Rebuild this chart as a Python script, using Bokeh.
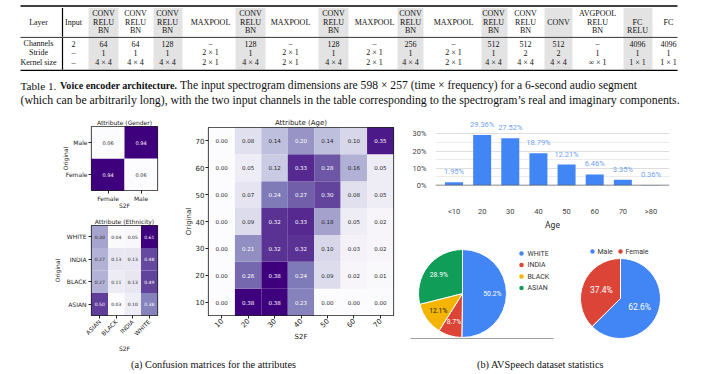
import math
from bokeh.plotting import figure
from bokeh.layouts import column, row
from bokeh.models import Range1d, FactorRange, FixedTicker, Span, ColumnDataSource
from bokeh.core.properties import value
from bokeh.embed import file_html
from bokeh.resources import INLINE

# ---------------- data ----------------
layer_headers = ["Input", "CONV RELU BN", "CONV RELU BN", "CONV RELU BN", "MAXPOOL",
                 "CONV RELU BN", "MAXPOOL", "CONV RELU BN", "MAXPOOL", "CONV RELU BN",
                 "MAXPOOL", "CONV RELU BN", "CONV RELU BN", "CONV", "AVGPOOL RELU BN",
                 "FC RELU", "FC"]
row_names = ["Channels", "Stride", "Kernel size"]
channels = ["2", "64", "64", "128", "–", "128", "–", "128", "–", "256", "–", "512", "512", "512", "–", "4096", "4096"]
strides = ["–", "1", "1", "1", "2 × 1", "1", "2 × 1", "1", "2 × 1", "1", "2 × 1", "1", "2", "2", "1", "1", "1"]
kernels = ["–", "4 × 4", "4 × 4", "4 × 4", "2 × 1", "4 × 4", "2 × 1", "4 × 4", "2 × 1", "4 × 4", "2 × 1",
           "4 × 4", "4 × 4", "4 × 4", "∞ × 1", "1 × 1", "1 × 1"]
shaded_cols = [1, 3, 5, 7, 9, 11, 13, 15]

gender_labels = ["Female", "Male"]
gender_matrix = [[0.94, 0.06],    # original Female -> S2F Female, Male
                 [0.06, 0.94]]    # original Male
ethnicity_labels = ["ASIAN", "BLACK", "INDIA", "WHITE"]
ethnicity_matrix = [[0.50, 0.03, 0.10, 0.38],   # original ASIAN
                    [0.27, 0.11, 0.13, 0.49],   # BLACK
                    [0.27, 0.13, 0.13, 0.48],   # INDIA
                    [0.30, 0.04, 0.05, 0.61]]   # WHITE
age_labels = ["10", "20", "30", "40", "50", "60", "70"]
age_matrix = [[0.00, 0.38, 0.38, 0.23, 0.00, 0.00, 0.00],   # original 10
              [0.00, 0.26, 0.38, 0.24, 0.09, 0.02, 0.01],   # 20
              [0.00, 0.21, 0.32, 0.32, 0.10, 0.03, 0.02],   # 30
              [0.00, 0.09, 0.32, 0.33, 0.18, 0.05, 0.02],   # 40
              [0.00, 0.07, 0.24, 0.27, 0.30, 0.08, 0.05],   # 50
              [0.00, 0.05, 0.12, 0.33, 0.28, 0.16, 0.05],   # 60
              [0.00, 0.08, 0.14, 0.20, 0.14, 0.10, 0.35]]   # 70
age_bins = ["<10", "20", "30", "40", "50", "60", "70", ">80"]
age_share = [1.95, 29.36, 27.52, 18.79, 12.21, 6.46, 3.35, 0.36]
eth_names = ["WHITE", "INDIA", "BLACK", "ASIAN"]
eth_share = [50.2, 8.7, 12.1, 28.9]
sex_names = ["Male", "Female"]
sex_share = [62.6, 37.4]

caption_lines = [["Table 1.", "Voice encoder architecture.",
                  "The input spectrogram dimensions are 598 × 257 (time × frequency) for a 6-second audio segment"],
                 ["(which can be arbitrarily long), with the two input channels in the table corresponding to the spectrogram’s real and imaginary components."]]
sub_captions = ["(a) Confusion matrices for the attributes", "(b) AVSpeech dataset statistics"]

# ---------------- styles / layout ----------------
SERIF = value("Liberation Serif")
SANS = value("DejaVu Sans")
ROBOTO = value("Roboto")
PURPLES = ["#fcfbfd", "#efedf5", "#dadaeb", "#bcbddc", "#9e9ac8", "#807dba", "#6a51a3", "#54278f", "#3f007d"]
GBLUE, GRED, GYELLOW, GGREEN = "#4285f4", "#db4437", "#f4b400", "#0f9d58"


def purple(t):
    t = min(max(t, 0.0), 1.0) * 8
    i = min(int(t), 7)
    f = t - i
    a = PURPLES[i]
    b = PURPLES[i + 1]
    ca = [int(a[k:k + 2], 16) for k in (1, 3, 5)]
    cb = [int(b[k:k + 2], 16) for k in (1, 3, 5)]
    return "#%02x%02x%02x" % tuple(int(round(ca[k] + (cb[k] - ca[k]) * f)) for k in range(3))


def blank(w, h, xr, yr):
    p = figure(width=w, height=h, x_range=Range1d(*xr), y_range=Range1d(*yr),
               x_axis_type=None, y_axis_type=None, toolbar_location=None,
               output_backend="svg", min_border=0, outline_line_color=None)
    p.grid.visible = False
    return p


# ---------------- table + caption ----------------
T = blank(718, 110, (0, 718), (110, 0))
col_x = [73, 103, 135, 167, 210, 250, 290, 333, 374, 410, 453, 493, 525, 558, 597, 637, 668]
shade_ext = {1: (88, 118), 3: (153, 182), 5: (235, 265), 7: (318, 348),
             9: (397, 423), 11: (481, 507), 13: (544, 572), 15: (623, 652)}
hdr_y = [13, 21.5, 30]
row_y = [43, 52.3, 61.8]
for c in shaded_cols:
    l, r = shade_ext[c]
    T.quad(left=[l, l], right=[r, r], top=[7.5, 37.6], bottom=[36.2, 69.1],
           fill_color="#e3e3e3", line_color=None)
T.segment(x0=[20, 20, 20], x1=[677, 677, 677], y0=[5.5, 36.9, 69.8], y1=[5.5, 36.9, 69.8],
          line_color="black", line_width=[1.3, 0.8, 1.3])
T.segment(x0=[62, 62], x1=[62, 62], y0=[7.5, 37.6], y1=[36.3, 69.2], line_color="black", line_width=1.2)

hx, hy, ht = [38], [hdr_y[1]], ["Layer"]
for c, h in enumerate(layer_headers):
    parts = h.split(" ")
    idx = [1] if len(parts) == 1 else ([1, 2] if len(parts) == 2 else [0, 1, 2])
    for k, s in zip(idx, parts):
        hx.append(col_x[c]); hy.append(hdr_y[k]); ht.append(s)
for k, name in enumerate(row_names):
    hx.append(38); hy.append(row_y[k]); ht.append(name)
for k, vals in enumerate([channels, strides, kernels]):
    for c, s in enumerate(vals):
        hx.append(col_x[c]); hy.append(row_y[k]); ht.append(s)
T.text(x=hx, y=hy, text=ht, text_font=SERIF, text_font_size=value("8px"), text_color="#111",
       text_align="center", text_baseline="middle")

# caption: three runs on line 1 (normal / bold / normal), one run on line 2
T.text(x=[20], y=[85], text=[caption_lines[0][0]], text_font=SERIF, text_font_size=value("11.2px"),
       text_color="#111", text_baseline="middle")
T.text(x=[59.5], y=[85], text=[caption_lines[0][1]], text_font=SERIF,
       text_font_size=value("10.1px"), text_font_style="bold", text_color="#111", text_baseline="middle")
T.text(x=[179.5], y=[85], text=[caption_lines[0][2]], text_font=SERIF,
       text_font_size=value("11.6px"), text_color="#111", text_baseline="middle")
T.text(x=[20], y=[99], text=[caption_lines[1][0]], text_font=SERIF, text_font_size=value("11.8px"),
       text_color="#111", text_baseline="middle")


# ---------------- heatmaps ----------------
def heatmap(labels, mat, title, w, h, bl, br, bt, bb, title_fs, tick_fs, cell_fs, lab_fs, rot,
            lab_standoff, ax_standoff_x, ax_standoff_y):
    vals = [v for r in mat for v in r]
    lo, hi = min(vals), max(vals)
    xs, ys, cs, ts, tcs = [], [], [], [], []
    for i, rlab in enumerate(labels):
        for j, clab in enumerate(labels):
            v = mat[i][j]
            t = (v - lo) / (hi - lo)
            xs.append(clab); ys.append(rlab); cs.append(purple(t))
            ts.append(f"{v:.2f}"); tcs.append("white" if t > 0.5 else "#262626")
    src = ColumnDataSource(dict(x=xs, y=ys, c=cs, t=ts, tc=tcs))
    p = figure(width=w, height=h, x_range=FactorRange(*labels), y_range=FactorRange(*labels),
               toolbar_location=None, output_backend="svg", min_border_left=bl, min_border_right=br,
               min_border_top=bt, min_border_bottom=bb, title=title,
               outline_line_color="#222", outline_line_width=1.2)
    p.rect(x="x", y="y", width=1, height=1, fill_color="c", line_color=None, source=src)
    p.text(x="x", y="y", text="t", text_color="tc", text_align="center", text_baseline="middle",
           text_font=SANS, text_font_size=value(cell_fs), source=src)
    p.grid.visible = False
    p.title.align = "center"
    p.title.text_font = "DejaVu Sans"
    p.title.text_font_size = title_fs
    p.title.text_font_style = "normal"
    p.title.text_color = "#222"
    p.title.standoff = 1
    for ax in (p.xaxis, p.yaxis):
        ax.axis_line_color = None
        ax.major_tick_out = 3
        ax.major_tick_in = 0
        ax.major_tick_line_color = "#222"
        ax.minor_tick_line_color = None
        ax.major_label_text_font = "DejaVu Sans"
        ax.major_label_text_font_size = tick_fs
        ax.major_label_text_color = "#222"
        ax.major_label_standoff = lab_standoff
        ax.axis_label_text_font = "DejaVu Sans"
        ax.axis_label_text_font_size = lab_fs
        ax.axis_label_text_font_style = "normal"
        ax.axis_label_text_color = "#222"
    p.xaxis.axis_label_standoff = ax_standoff_x
    p.yaxis.axis_label_standoff = ax_standoff_y
    p.xaxis.axis_label = "S2F"
    p.yaxis.axis_label = "Original"
    if rot:
        p.xaxis.major_label_orientation = math.pi / 4
    return p


G = heatmap(gender_labels, gender_matrix, "Attribute (Gender)", 170, 105, 91, 13, 16, 25,
            "6px", "6px", "5px", "6px", False, 1, -3, -6)
E = heatmap(ethnicity_labels, ethnicity_matrix, "Attribute (Ethnicity)", 170, 140, 56, 13, 10, 32,
            "6px", "6px", "4.5px", "6px", True, 2, 3, 3)
A = heatmap(age_labels, age_matrix, "Attribute (Age)", 230, 245, 38, 7, 17, 40,
            "7px", "7px", "5.5px", "7px", True, 1, 0, 0)

# ---------------- age distribution bar chart ----------------
n = len(age_bins)
B = figure(width=318, height=122, x_range=Range1d(-0.658, n - 1 + 0.658), y_range=Range1d(0, 38.96),
           toolbar_location=None, output_backend="svg", min_border_left=35, min_border_right=49,
           min_border_top=8, min_border_bottom=27, outline_line_color=None)
bsrc = ColumnDataSource(dict(x=list(range(n)), top=age_share, lab=[f"{v:.2f}%" for v in age_share]))
B.vbar(x="x", top="top", width=0.64, fill_color=GBLUE, line_color=None, source=bsrc)
B.text(x="x", y="top", text="lab", text_align="center", text_baseline="bottom", y_offset=-6,
       text_font=ROBOTO, text_font_size=value("7.5px"), text_color="#6f9ff5", source=bsrc)
B.add_layout(Span(location=0, dimension="width", line_color="#5f5f5f", line_width=1.5))
B.xgrid.visible = False
B.yaxis.ticker = FixedTicker(ticks=[0, 10, 20, 30], minor_ticks=[5, 15, 25])
B.yaxis.major_label_overrides = {t: f"{t}%" for t in [0, 10, 20, 30]}
B.ygrid.grid_line_color = "#dedede"
B.ygrid.minor_grid_line_color = "#ececec"
B.xaxis.ticker = FixedTicker(ticks=list(range(n)))
B.xaxis.major_label_overrides = {i: s for i, s in enumerate(age_bins)}
B.xaxis.axis_label = "Age"
for ax in (B.xaxis, B.yaxis):
    ax.axis_line_color = None
    ax.major_tick_line_color = None
    ax.minor_tick_line_color = None
    ax.major_label_text_font = "Roboto"
    ax.major_label_text_font_size = "7.5px"
    ax.major_label_text_color = "#444"
B.xaxis.major_label_standoff = 15
B.yaxis.major_label_standoff = 3
B.xaxis.axis_label_text_font = "Roboto"
B.xaxis.axis_label_text_font_size = "8.5px"
B.xaxis.axis_label_text_font_style = "normal"
B.xaxis.axis_label_text_color = "#222"
B.xaxis.axis_label_standoff = 1


# ---------------- pies ----------------
def pie(p, shares, colors, cx, cy, r, frac, lab_colors, fs):
    total = sum(shares)
    s0, s1, lx, ly, labs = [], [], [], [], []
    cum = 0.0
    for s in shares:
        a0 = math.pi / 2 - 2 * math.pi * cum / total
        cum += s
        a1 = math.pi / 2 - 2 * math.pi * cum / total
        m = (a0 + a1) / 2
        s0.append(a0); s1.append(a1)
        lx.append(cx + frac * r * math.cos(m)); ly.append(cy + frac * r * math.sin(m))
        labs.append(f"{s:.1f}%")
    src = ColumnDataSource(dict(s0=s0, s1=s1, c=colors, lx=lx, ly=ly, t=labs, tc=lab_colors))
    p.wedge(x=cx, y=cy, radius=r, start_angle="s0", end_angle="s1", direction="clock",
            fill_color="c", line_color="white", line_width=1, source=src)
    p.text(x="lx", y="ly", text="t", text_color="tc", text_align="center", text_baseline="middle",
           text_font=ROBOTO, text_font_size=value(fs), source=src)


PE = blank(160, 123, (400, 560), (-355, -232))
PE.segment(x0=[410], x1=[553], y0=[-338], y1=[-338], line_color="#9e9e9e", line_width=1)
pie(PE, eth_share, [GBLUE, GRED, GYELLOW, GGREEN], 462, -293, 44, 0.68,
    ["white", "white", "#222", "white"], "6.8px")
PE.scatter(x=[521] * 4, y=[-253 - 11.5 * i for i in range(4)], size=4.5,
           fill_color=[GBLUE, GRED, GYELLOW, GGREEN], line_color=None)
PE.text(x=[527] * 4, y=[-253 - 11.5 * i for i in range(4)], text=eth_names, text_baseline="middle",
        text_font=ROBOTO, text_font_size=value("7px"), text_color="#333")

PG = blank(158, 123, (560, 718), (-355, -232))
pie(PG, sex_share, [GBLUE, GRED], 620, -298, 40, 0.52, ["white", "white"], "8.5px")
PG.scatter(x=[592, 620], y=[-251, -251], size=4.5, fill_color=[GBLUE, GRED], line_color=None)
PG.text(x=[597, 625], y=[-251, -251], text=sex_names, text_baseline="middle",
        text_font=ROBOTO, text_font_size=value("7px"), text_color="#333")

# ---------------- sub captions ----------------
C = blank(718, 19, (0, 718), (374, 355))
C.text(x=[213, 540], y=[363.5, 363.5], text=sub_captions, text_align="center", text_baseline="middle",
       text_font=SERIF, text_font_size=value("10.3px"), text_color="#111")

layout = column(T, row(column(G, E), A, column(B, row(PE, PG))), C)
open("out.html", "w").write(file_html(layout, INLINE))
